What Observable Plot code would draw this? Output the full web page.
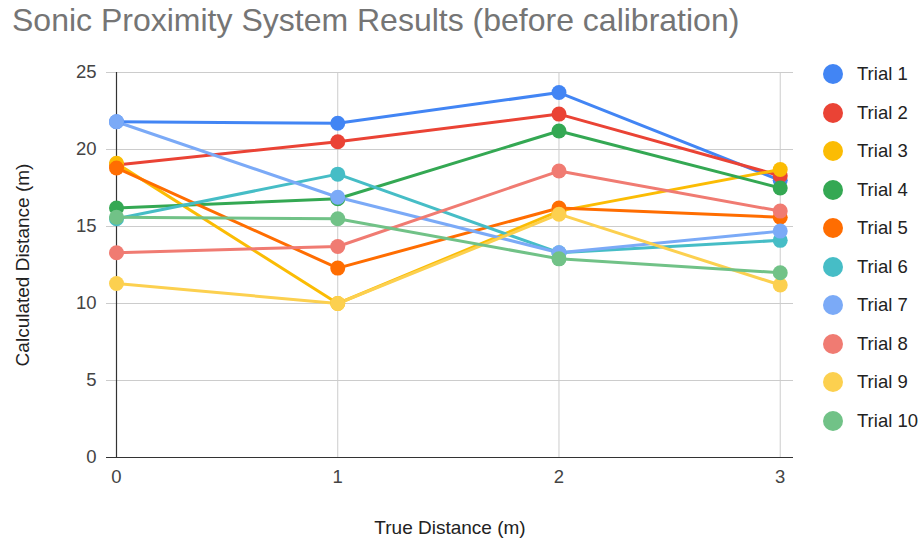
<!DOCTYPE html>
<html>
<head>
<meta charset="utf-8">
<script src="https://cdn.jsdelivr.net/npm/d3@7"></script>
<script src="https://cdn.jsdelivr.net/npm/@observablehq/plot@0.6"></script>
<style>
  html, body { margin: 0; padding: 0; background: #fff; }
  #wrap { position: relative; width: 922px; height: 542px; font-family: "Liberation Sans", Arial, sans-serif; }
  #title { position: absolute; left: 12px; top: 2px; font-size: 32px; color: #757575; white-space: nowrap; }
  #chart { position: absolute; left: 0; top: 50px; }
  #legend { position: absolute; left: 823px; top: 55px; }
  .item { height: 38.5px; display: flex; align-items: center; font-size: 18.5px; color: #222; }
  .sw { width: 20px; height: 20px; border-radius: 50%; margin-right: 14px; }
</style>
</head>
<body>
<div id="wrap">
  <div id="title">Sonic Proximity System Results (before calibration)</div>
  <div id="chart"></div>
  <div id="legend"></div>
</div>
<script>
const trueDistance = [0, 1, 2, 3];
const trialNames = ["Trial 1", "Trial 2", "Trial 3", "Trial 4", "Trial 5", "Trial 6", "Trial 7", "Trial 8", "Trial 9", "Trial 10"];
const trial1 = [21.8, 21.7, 23.7, 18.0];
const trial2 = [19.0, 20.5, 22.3, 18.3];
const trial3 = [19.1, 10.0, 16.0, 18.7];
const trial4 = [16.2, 16.8, 21.2, 17.5];
const trial5 = [18.8, 12.3, 16.2, 15.6];
const trial6 = [15.5, 18.4, 13.3, 14.1];
const trial7 = [21.8, 16.9, 13.3, 14.7];
const trial8 = [13.3, 13.7, 18.6, 16.0];
const trial9 = [11.3, 10.0, 15.8, 11.2];
const trial10 = [15.6, 15.5, 12.9, 12.0];
const yTicks = [0, 5, 10, 15, 20, 25];
const xTicks = [0, 1, 2, 3];
const colors = ["#4285F4", "#EA4335", "#FBBC04", "#34A853", "#FF6D01", "#46BDC6", "#7BAAF7", "#F07B72", "#FCD04F", "#71C287"];
const xLabel = "True Distance (m)";
const yLabel = "Calculated Distance (m)";

const series = [trial1, trial2, trial3, trial4, trial5, trial6, trial7, trial8, trial9, trial10];
const data = [];
series.forEach((vals, i) => vals.forEach((v, j) => data.push({trial: trialNames[i], x: trueDistance[j], y: v})));

const font = '"Liberation Sans", Arial, sans-serif';
const chart = Plot.plot({
  width: 922,
  height: 492,
  marginLeft: 116,
  marginRight: 129,
  marginTop: 22,
  marginBottom: 85,
  style: {fontFamily: font, fontSize: "18px", color: "#444", background: "transparent"},
  x: {domain: [0, 3.06], axis: null},
  y: {domain: [0, 25], axis: null},
  color: {domain: trialNames, range: colors},
  marks: [
    Plot.ruleY(yTicks, {y: d => d, stroke: "#cccccc", strokeWidth: 1, insetLeft: -10}),
    Plot.ruleX(xTicks.filter(d => d > 0), {x: d => d, stroke: "#cccccc", strokeWidth: 1}),
    Plot.ruleY([0], {stroke: "#333", strokeWidth: 1.2, insetLeft: -10}),
    Plot.ruleX([0], {stroke: "#333", strokeWidth: 1.2}),
    Plot.text(yTicks, {y: d => d, text: d => String(d), frameAnchor: "left", dx: -20, textAnchor: "end", lineAnchor: "middle", fill: "#444", fontSize: 18.5}),
    Plot.text(xTicks, {x: d => d, text: d => String(d), frameAnchor: "bottom", dy: 20, textAnchor: "middle", lineAnchor: "middle", fill: "#444", fontSize: 18.5}),
    Plot.text([yLabel], {text: d => d, frameAnchor: "left", dx: -94, rotate: -90, textAnchor: "middle", lineAnchor: "middle", fill: "#222", fontSize: 19}),
    Plot.text([xLabel], {text: d => d, frameAnchor: "bottom", dx: -5, dy: 70, textAnchor: "middle", lineAnchor: "middle", fill: "#222", fontSize: 19}),
    Plot.line(data, {x: "x", y: "y", z: "trial", stroke: "trial", strokeWidth: 3}),
    Plot.dot(data, {x: "x", y: "y", fill: "trial", r: 7.5})
  ]
});
document.getElementById("chart").appendChild(chart);

const legend = document.getElementById("legend");
trialNames.forEach((name, i) => {
  const item = document.createElement("div");
  item.className = "item";
  const sw = document.createElement("div");
  sw.className = "sw";
  sw.style.background = colors[i];
  item.appendChild(sw);
  item.appendChild(document.createTextNode(name));
  legend.appendChild(item);
});
</script>
</body>
</html>
